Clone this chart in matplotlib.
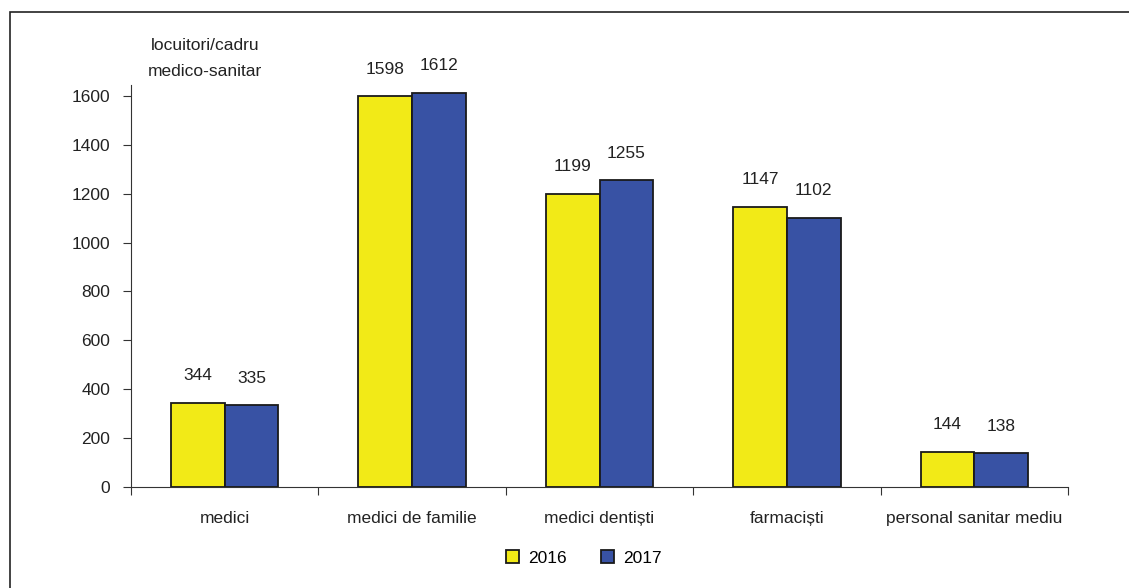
import numpy as np
import matplotlib.pyplot as plt
from matplotlib.patches import Rectangle

plt.rcParams['font.family'] = ['Liberation Sans', 'DejaVu Sans']

# Data
categories = ['medici', 'medici de familie', 'medici dentiști', 'farmaciști',
              'personal sanitar mediu']
years = ['2016', '2017']
values_2016 = [344, 1598, 1199, 1147, 144]
values_2017 = [335, 1612, 1255, 1102, 138]
y_ticks = [0, 200, 400, 600, 800, 1000, 1200, 1400, 1600]

YELLOW = '#F2EA17'
BLUE = '#3852A4'
AXIS = '#333333'
FS = 12.5

fig = plt.figure(figsize=(11.29, 5.88), dpi=100)
ax = fig.add_axes([131 / 1129, 1 - 487 / 588, (1068 - 131) / 1129, (487 - 85) / 588])

# outer frame (right and bottom edges fall outside the image)
fig.patches.append(Rectangle((10 / 1129, -0.1), 1.2, 1 - 12 / 588 + 0.1,
                             transform=fig.transFigure, fill=False,
                             edgecolor='#222222', linewidth=1.2))

x = np.arange(len(categories))
w = 0.287
b1 = ax.bar(x - w / 2, values_2016, w, color=YELLOW, edgecolor='#1a1a1a',
            linewidth=1.3, label=years[0])
b2 = ax.bar(x + w / 2, values_2017, w, color=BLUE, edgecolor='#1a1a1a',
            linewidth=1.3, label=years[1])

for bars in (b1, b2):
    for r in bars:
        ax.annotate(f'{int(r.get_height())}',
                    (r.get_x() + r.get_width() / 2, r.get_height()),
                    xytext=(0, 19.5), textcoords='offset points',
                    ha='center', va='center', fontsize=FS, color='#222222')

ax.set_xlim(-0.5, len(categories) - 0.5)
ax.set_ylim(0, 1645)
ax.set_yticks(y_ticks)
ax.tick_params(axis='y', length=6, width=0.8, color=AXIS, pad=9,
               labelsize=FS, labelcolor='#222222')

# boundary ticks, category labels on minor ticks
ax.set_xticks(np.arange(-0.5, len(categories), 1.0))
ax.set_xticklabels([])
ax.tick_params(axis='x', which='major', length=5.5, width=0.8, color=AXIS)
ax.set_xticks(x, minor=True)
ax.set_xticklabels(categories, minor=True)
ax.tick_params(axis='x', which='minor', length=0, pad=17, labelsize=FS,
               labelcolor='#222222')

for s in ('top', 'right'):
    ax.spines[s].set_visible(False)
for s in ('left', 'bottom'):
    ax.spines[s].set_color(AXIS)
    ax.spines[s].set_linewidth(0.8)

fig.text(205 / 1129, 1 - 45 / 588, 'locuitori/cadru', ha='center', va='center',
         fontsize=FS, color='#222222')
fig.text(205 / 1129, 1 - 72 / 588, 'medico-sanitar', ha='center', va='center',
         fontsize=FS, color='#222222')

fig.legend(handles=[b1, b2], labels=years, loc='center', ncol=2,
           bbox_to_anchor=(584 / 1129, 1 - 558 / 588), frameon=False,
           fontsize=FS, handlelength=0.75, handleheight=0.75,
           handletextpad=0.5, columnspacing=2.0)

fig.savefig('out.png', dpi=100)
